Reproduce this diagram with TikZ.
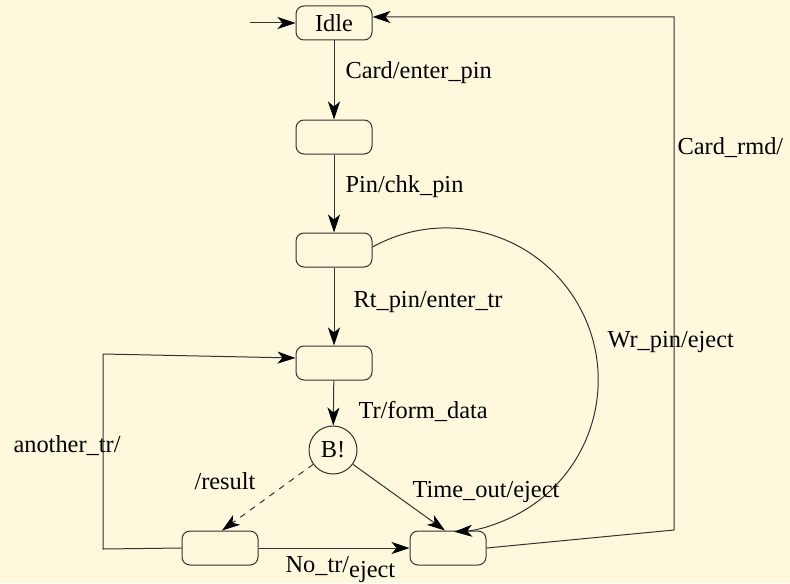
\documentclass[tikz,border=0pt]{standalone}
\usepackage{fontspec}
\setmainfont{Liberation Serif}
\usetikzlibrary{arrows.meta}

\definecolor{paper}{RGB}{254,248,220}

\tikzset{
	state/.style={draw=black!80, rounded corners=4pt, minimum width=38pt, minimum height=17pt, inner sep=0pt},
	trans/.style={draw=black!80, -{Stealth[length=9pt,width=6pt,inset=2.5pt,black]}},
	lbl/.style={anchor=base west, inner sep=0pt}
}

\begin{document}
\begin{tikzpicture}[x=0.5pt, y=-0.5pt, font=\fontsize{12.2}{14}\selectfont, line width=0.5pt]
	\fill[paper] (0,0) rectangle (790,583);
	\useasboundingbox (0,0) rectangle (790,583);

	% states
	\node[state] (idle) at (334,23) {Idle};
	\node[state] (pin) at (334,137) {};
	\node[state] (chk) at (334,250) {};
	\node[state] (tr) at (334,363) {};
	\node[draw=black!80, circle, minimum size=24pt, inner sep=0pt] (b) at (333,450) {B!};
	\node[state] (res) at (220,548) {};
	\node[state] (ej) at (448,548) {};

	\coordinate (start) at (250,23);
	\coordinate (cr) at (674,530);
	\coordinate (at) at (103,549);
	\coordinate (ab) at (103,354);

	% transitions
	\draw[trans] (start) -- (idle);
	\draw[trans] (idle) -- (pin);
	\draw[trans] (pin) -- (chk);
	\draw[trans] (chk) -- (tr);
	\draw[trans] (tr) -- (b);
	\draw[trans, dashed] (b) -- ([xshift=1pt]res.north);
	\draw[trans] (b) -- ([xshift=-1.5pt]ej.north);
	\draw[trans] (res) -- (ej);
	\draw[trans] ([yshift=1.5pt]chk.east) arc[start angle=119, end angle=-87, radius=76pt];
	\draw[trans] (ej.east) -- (cr) |- ([yshift=3pt]idle.east);
	\draw[trans] (res.west) -- (at) -- (ab) -- ([yshift=2.5pt]tr.west);

	% labels
	\node[lbl] (l1) at (345,78) {Card/enter\_pin};
	\node[lbl] (l2) at (345,192) {Pin/chk\_pin};
	\node[lbl] (l3) at (353,307) {Rt\_pin/enter\_tr};
	\node[lbl] (l4) at (358,418) {Tr/form\_data};
	\node[lbl] (l5) at (607,347) {Wr\_pin/eject};
	\node[lbl] (l6) at (677,154) {Card\_rmd/};
	\node[lbl] (l7) at (13,452) {another\_tr/};
	\node[lbl] (l8) at (194,489) {/result};
	\node[lbl] (l9) at (412,497) {Time\_out/eject};
	\node[lbl] (l10) at (285,572) {No\_tr/\raisebox{-2.5pt}{eject}};
\end{tikzpicture}
\end{document}
